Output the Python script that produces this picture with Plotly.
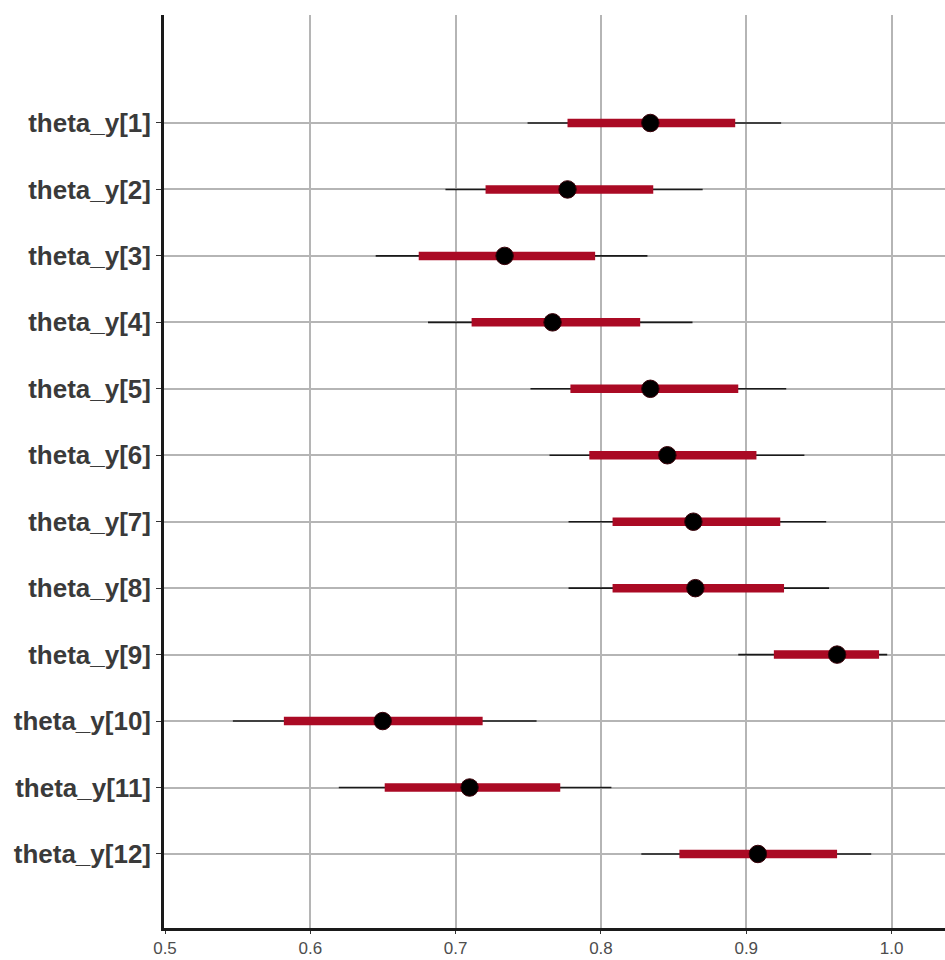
import plotly.graph_objects as go

params = [f"theta_y[{i}]" for i in range(1, 13)]
outer_lo = [0.7495, 0.693, 0.645, 0.681, 0.7515, 0.7646, 0.7777, 0.7777, 0.8945, 0.5467, 0.6196, 0.8278]
outer_hi = [0.924, 0.870, 0.832, 0.863, 0.9275, 0.940, 0.955, 0.957, 0.997, 0.7557, 0.8072, 0.986]
inner_lo = [0.777, 0.7206, 0.6746, 0.711, 0.779, 0.792, 0.808, 0.808, 0.919, 0.5818, 0.6512, 0.854]
inner_hi = [0.8924, 0.836, 0.796, 0.827, 0.8945, 0.907, 0.9234, 0.926, 0.9914, 0.7186, 0.772, 0.9625]
median = [0.834, 0.777, 0.7337, 0.7667, 0.834, 0.8457, 0.8636, 0.865, 0.9625, 0.6498, 0.7096, 0.908]
x_ticks = [0.5, 0.6, 0.7, 0.8, 0.9, 1.0]
x_ticktext = ["0.5", "0.6", "0.7", "0.8", "0.9", "1.0"]


def segs(lo, hi):
    xs, ys = [], []
    for p, a, b in zip(params, lo, hi):
        xs += [a, b, None]
        ys += [p, p, None]
    return xs, ys


fig = go.Figure()
xo, yo = segs(outer_lo, outer_hi)
fig.add_trace(go.Scatter(x=xo, y=yo, mode="lines", line=dict(color="#1a1a1a", width=1.6),
                         hoverinfo="skip", showlegend=False))
xi, yi = segs(inner_lo, inner_hi)
fig.add_trace(go.Scatter(x=xi, y=yi, mode="lines", line=dict(color="#AA0A24", width=8.5),
                         hoverinfo="skip", showlegend=False))
fig.add_trace(go.Scatter(x=median, y=params, mode="markers",
                         marker=dict(color="#000000", size=17.5, line=dict(color="#3a0008", width=1)),
                         showlegend=False))

fig.update_layout(
    width=945, height=960,
    margin=dict(l=164, r=0, t=15, b=32),
    plot_bgcolor="white", paper_bgcolor="white",
    font=dict(family="Liberation Sans, Arial, sans-serif"),
)
fig.update_xaxes(
    range=[0.5 - 1 / 1455, 0.5 + 781 / 1455],
    tickvals=x_ticks, ticktext=x_ticktext,
    tickfont=dict(size=17, color="#4d4d4d"),
    showgrid=True, gridcolor="#b5b5b5", gridwidth=1.5,
    showline=True, linecolor="#1a1a1a", linewidth=2.6,
    ticks="outside", ticklen=3, tickwidth=1.3, tickcolor="#333",
    zeroline=False,
)
fig.update_yaxes(
    type="category", categoryorder="array", categoryarray=params,
    range=[12.114, -1.625],
    tickfont=dict(size=26, color="#3a3a3a", weight="bold"),
    showgrid=True, gridcolor="#b5b5b5", gridwidth=1.5,
    showline=True, linecolor="#1a1a1a", linewidth=2.6,
    ticks="outside", ticklen=5, tickwidth=1.3, tickcolor="#333",
    zeroline=False,
)

fig.write_html("out.html")
